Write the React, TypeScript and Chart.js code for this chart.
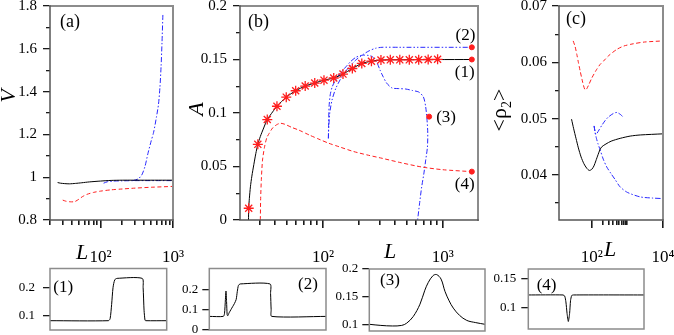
import React, { useEffect, useRef } from 'react';
import { Chart, registerables } from 'chart.js';

Chart.register(...registerables);

const W = 674;
const H = 335;
const SERIF = '"Liberation Serif", "Times New Roman", Times, serif';

type Pt = [number, number];

// ---------------- Panel (a): V vs L ----------------
const aBlack: Pt[] = [[25.5, 0.975], [28, 0.972], [32, 0.97], [37, 0.969], [45, 0.971], [55, 0.974], [70, 0.978], [100, 0.982], [140, 0.985], [200, 0.986], [400, 0.986], [1000, 0.986]];
const aRed: Pt[] = [[30, 0.893], [33, 0.888], [38, 0.885], [44, 0.886], [50, 0.897], [56, 0.909], [65, 0.92], [80, 0.929], [100, 0.935], [140, 0.941], [200, 0.945], [300, 0.949], [500, 0.953], [1000, 0.957]];
const aBlueFlat: Pt[] = [[110, 0.972], [125, 0.979], [150, 0.982], [200, 0.983], [300, 0.984], [600, 0.984], [1000, 0.984]];
const aBlueRise: Pt[] = [[280, 0.984], [330, 0.992], [370, 1.01], [410, 1.05], [450, 1.11], [500, 1.17], [540, 1.21], [590, 1.28], [630, 1.34], [660, 1.42], [685, 1.52], [705, 1.63], [725, 1.76]];
const aXTicks = [20, 30, 40, 50, 60, 70, 80, 90, 100, 200, 300, 400, 500, 600, 700, 800, 900, 1000];
const aXMajor = [100, 1000];
const aXLabels = ['10²', '10³'];
const aYTicks = [0.8, 0.9, 1.0, 1.1, 1.2, 1.3, 1.4, 1.5, 1.6, 1.7, 1.8];
const aYMajor = [0.8, 1.0, 1.2, 1.4, 1.6, 1.8];
const aYLabels = ['0.8', '1', '1.2', '1.4', '1.6', '1.8'];

// ---------------- Panel (b): A vs L ----------------
const bStarL = [24.0, 28.6, 34.3, 41.3, 49.4, 59.2, 71.1, 85.4, 102, 123, 147, 176, 211, 254, 305, 365, 438, 526, 630, 756, 906];
const bStarA = [0.011, 0.0707, 0.0939, 0.1063, 0.1148, 0.1208, 0.1252, 0.128, 0.1307, 0.1327, 0.1364, 0.1416, 0.1463, 0.1484, 0.1495, 0.1497, 0.1497, 0.1497, 0.1498, 0.15, 0.1502];
const bBlack: Pt[] = [[23.9, 0], [24.0, 0.011], [24.3, 0.02], [24.8, 0.031], [25.5, 0.041], [26.5, 0.052], [27.5, 0.062], [28.6, 0.0707], [30, 0.078], [32, 0.086], [34.3, 0.0939], [38, 0.101], [41.3, 0.1063], [49.4, 0.1148], [59.2, 0.1208], [71.1, 0.1252], [85.4, 0.128], [102, 0.1307], [123, 0.1327], [147, 0.1364], [176, 0.1416], [211, 0.1463], [254, 0.1484], [305, 0.1495], [400, 0.1498], [1750, 0.15]];
const bRed: Pt[] = [[30, 0], [30.2, 0.02], [30.6, 0.038], [31.3, 0.056], [32.5, 0.068], [34, 0.077], [35.6, 0.081], [38, 0.086], [41, 0.089], [44, 0.0904], [48, 0.0895], [55, 0.0865], [63, 0.084], [77, 0.0794], [95, 0.075], [112, 0.0717], [136, 0.0685], [180, 0.064], [240, 0.0605], [311, 0.0577], [450, 0.0535], [670, 0.0495], [1000, 0.047], [1750, 0.0452]];
const bBlue1: Pt[] = [[111, 0.0763], [111.5, 0.09], [112.5, 0.106], [115, 0.117], [120, 0.125], [128, 0.131], [140, 0.1375], [155, 0.143], [170, 0.148], [188, 0.152], [213, 0.154], [240, 0.1538], [259, 0.1526], [280, 0.148], [300, 0.14], [313, 0.1355], [340, 0.128], [377, 0.1234], [430, 0.1228], [492, 0.1224], [560, 0.121], [631, 0.1196], [690, 0.115], [721, 0.1056], [740, 0.093], [750, 0.0813], [745, 0.068], [721, 0.056], [695, 0.043], [667, 0.0308], [640, 0.015], [617, 0]];
const bBlue2: Pt[] = [[111, 0.0763], [112, 0.088], [114, 0.1], [119, 0.112], [128, 0.123], [144, 0.134], [165, 0.143], [188, 0.1495], [215, 0.1545], [242, 0.158], [275, 0.1605], [311, 0.1614], [433, 0.1614], [1750, 0.1614]];
const bDots: Pt[] = [[1750, 0.15], [1750, 0.1614], [770, 0.0966], [1750, 0.0452]];
const bDotLabels = ['(1)', '(2)', '(3)', '(4)'];
const bXTicks = [30, 40, 50, 60, 70, 80, 90, 100, 200, 300, 400, 500, 600, 700, 800, 900, 1000];
const bXMajor = [100, 1000];
const bXLabels = ['10²', '10³'];
const bYTicks = [0, 0.025, 0.05, 0.075, 0.1, 0.125, 0.15, 0.175, 0.2];
const bYMajor = [0, 0.05, 0.1, 0.15, 0.2];
const bYLabels = ['0', '0.05', '0.1', '0.15', '0.2'];

// ---------------- Panel (c): <rho_2> vs L ----------------
const cRed: Pt[] = [[30, 0.0638], [34, 0.0628], [38, 0.0614], [42, 0.06], [47, 0.0585], [53, 0.057], [59, 0.0558], [65, 0.0551], [72, 0.0553], [82, 0.056], [100, 0.0572], [130, 0.0585], [170, 0.0596], [212, 0.0602], [300, 0.0612], [506, 0.0623], [800, 0.0629], [1488, 0.0633], [3000, 0.0636], [10000, 0.0638]];
const cBlack: Pt[] = [[27, 0.0499], [31, 0.0482], [36, 0.0465], [42, 0.0448], [50, 0.0432], [60, 0.042], [72, 0.0412], [85, 0.0408], [100, 0.041], [115, 0.0416], [130, 0.0425], [150, 0.0436], [170, 0.0445], [191, 0.045], [250, 0.0455], [350, 0.046], [627, 0.0465], [1200, 0.0469], [2300, 0.0471], [10000, 0.0473]];
const cBlue1: Pt[] = [[116, 0.0487], [122, 0.0478], [128, 0.0472], [140, 0.0474], [160, 0.048], [191, 0.0488], [240, 0.0497], [294, 0.0503], [400, 0.0509], [506, 0.0511], [650, 0.0507], [777, 0.0502]];
const cBlue2: Pt[] = [[116, 0.0487], [125, 0.0475], [135, 0.0465], [150, 0.0455], [175, 0.0443], [210, 0.0428], [264, 0.0414], [350, 0.0402], [450, 0.0392], [620, 0.0379], [1000, 0.0369], [2300, 0.0361], [5000, 0.0359], [10000, 0.0358]];
const cXTicks = [100, 200, 300, 400, 500, 600, 700, 800, 900, 1000, 10000];
const cXMajor = [100, 10000];
const cXLabels = ['10²', '10⁴'];
const cYTicks = [0.035, 0.04, 0.045, 0.05, 0.055, 0.06, 0.065, 0.07];
const cYMajor = [0.04, 0.05, 0.06, 0.07];
const cYLabels = ['0.04', '0.05', '0.06', '0.07'];

// ---------------- Bottom profiles (1)-(4) ----------------
const p1: Pt[] = [[0, 0.083], [0.5, 0.083], [0.515, 0.09], [0.528, 0.14], [0.54, 0.2], [0.555, 0.228], [0.575, 0.233], [0.79, 0.233], [0.798, 0.2], [0.806, 0.12], [0.814, 0.085], [0.82, 0.083], [1, 0.083]];
const p1Ticks = [0.1, 0.2];
const p1Labels = ['0.1', '0.2'];
const p2: Pt[] = [[0, 0.067], [0.12, 0.067], [0.13, 0.08], [0.138, 0.15], [0.143, 0.192], [0.148, 0.14], [0.153, 0.075], [0.158, 0.07], [0.17, 0.085], [0.185, 0.1], [0.2, 0.115], [0.215, 0.13], [0.23, 0.15], [0.24, 0.19], [0.25, 0.22], [0.265, 0.227], [0.52, 0.227], [0.525, 0.18], [0.53, 0.1], [0.535, 0.067], [1, 0.067]];
const p2Ticks = [0, 0.1, 0.2];
const p2Labels = ['0', '0.1', '0.2'];
const p3: Pt[] = [[0, 0.101], [0.1, 0.099], [0.2, 0.098], [0.28, 0.099], [0.323, 0.103], [0.38, 0.115], [0.438, 0.137], [0.48, 0.162], [0.51, 0.176], [0.55, 0.188], [0.582, 0.19], [0.62, 0.182], [0.654, 0.16], [0.69, 0.143], [0.726, 0.13], [0.78, 0.117], [0.842, 0.108], [0.92, 0.104], [1, 0.101]];
const p3Ticks = [0.1, 0.15, 0.2];
const p3Labels = ['0.1', '0.15', '0.2'];
const p4: Pt[] = [[0, 0.122], [0.3, 0.122], [0.315, 0.12], [0.325, 0.11], [0.335, 0.09], [0.346, 0.076], [0.357, 0.09], [0.365, 0.112], [0.375, 0.121], [0.39, 0.122], [1, 0.122]];
const p4Ticks = [0.1, 0.15];
const p4Labels = ['0.1', '0.15'];

// ---------------- Styles ----------------
const RED = 'rgb(255,30,30)';
const BLUE = 'rgb(40,40,255)';
const BLACK = '#000';
const DASH = [4, 2.5];
const DASHDOT = [5, 2, 1.5, 2];
const DASHDOTDOT = [5, 2, 1.5, 2, 1.5, 2];
const TICK_LEN = 7;

interface Rect { left: number; top: number; right: number; bottom: number }
interface AxisCfg {
  type: 'linear' | 'logarithmic';
  min: number; max: number;
  ticks: number[]; major: number[]; labels: string[];
  fontSize: number; padding: number;
}
interface SeriesCfg {
  data: Pt[]; color: string; dash?: number[]; width?: number; tension?: number;
  points?: boolean; pointStyle?: string; radius?: number;
}
interface Part { t: string; font: string; dy?: number }
interface TextCfg { parts: Part[]; x: number; y: number; rotate?: boolean; align?: 'left' | 'center' }
interface AnchorCfg { at: Pt; text: string; dx: number; dy: number; font: string }
interface PanelCfg {
  rect: Rect; x: AxisCfg | null; xRange?: [number, number]; y: AxisCfg;
  series: SeriesCfg[]; texts: TextCfg[]; anchors?: AnchorCfg[]; small?: boolean;
}

const F = (size: number, italic = false) => `${italic ? 'italic ' : ''}${size}px ${SERIF}`;

const PANELS: PanelCfg[] = [
  {
    rect: { left: 50, top: 6, right: 173, bottom: 220 },
    x: { type: 'logarithmic', min: 20, max: 1000, ticks: aXTicks, major: aXMajor, labels: aXLabels, fontSize: 17, padding: 21 },
    y: { type: 'linear', min: 0.8, max: 1.8, ticks: aYTicks, major: aYMajor, labels: aYLabels, fontSize: 15, padding: 13 },
    series: [
      { data: aBlack, color: BLACK },
      { data: aRed, color: RED, dash: DASH },
      { data: aBlueFlat, color: BLUE, dash: DASHDOT },
      { data: aBlueRise, color: BLUE, dash: DASHDOT },
    ],
    texts: [
      { parts: [{ t: '(a)', font: F(18) }], x: 60, y: 27 },
      { parts: [{ t: 'V', font: F(22, true) }], x: 15, y: 96, rotate: true, align: 'center' },
      { parts: [{ t: 'L', font: F(22, true) }], x: 82, y: 259, align: 'center' },
    ],
  },
  {
    rect: { left: 240, top: 6, right: 478, bottom: 220 },
    x: { type: 'logarithmic', min: 20.3, max: 1970, ticks: bXTicks, major: bXMajor, labels: bXLabels, fontSize: 17, padding: 21 },
    y: { type: 'linear', min: 0, max: 0.2, ticks: bYTicks, major: bYMajor, labels: bYLabels, fontSize: 15, padding: 13 },
    series: [
      { data: bDots, color: RED, points: true, pointStyle: 'circle', radius: 2.5 },
      { data: bStarL.map((l, i) => [l, bStarA[i]] as Pt), color: RED, points: true, pointStyle: 'star', radius: 5 },
      { data: bBlack, color: BLACK },
      { data: bRed, color: RED, dash: DASH },
      { data: bBlue1, color: BLUE, dash: DASHDOT },
      { data: bBlue2, color: BLUE, dash: DASHDOTDOT },
    ],
    texts: [
      { parts: [{ t: '(b)', font: F(18) }], x: 248, y: 27 },
      { parts: [{ t: 'A', font: F(22, true) }], x: 203, y: 109, rotate: true, align: 'center' },
      { parts: [{ t: 'L', font: F(22, true) }], x: 390, y: 258, align: 'center' },
    ],
    anchors: bDots.map((d, i) => ({
      at: d, text: bDotLabels[i], font: F(17),
      dx: [-17, -16.3, 7, -17][i], dy: [17.3, -7.3, 5.3, 17.3][i],
    })),
  },
  {
    rect: { left: 559, top: 6, right: 663, bottom: 220 },
    x: { type: 'logarithmic', min: 12, max: 10000, ticks: cXTicks, major: cXMajor, labels: cXLabels, fontSize: 17, padding: 21 },
    y: { type: 'linear', min: 0.032, max: 0.07, ticks: cYTicks, major: cYMajor, labels: cYLabels, fontSize: 15, padding: 12 },
    series: [
      { data: cBlack, color: BLACK },
      { data: cRed, color: RED, dash: DASH },
      { data: cBlue1, color: BLUE, dash: DASHDOT },
      { data: cBlue2, color: BLUE, dash: DASHDOT },
    ],
    texts: [
      { parts: [{ t: '(c)', font: F(18) }], x: 566, y: 24 },
      {
        parts: [{ t: '<ρ', font: F(22) }, { t: '2', font: F(14), dy: 5 }, { t: '>', font: F(22) }],
        x: 506, y: 110, rotate: true, align: 'center',
      },
      { parts: [{ t: 'L', font: F(22, true) }], x: 610, y: 256, align: 'center' },
    ],
  },
  {
    rect: { left: 50, top: 268.5, right: 166.7, bottom: 330 }, x: null, xRange: [0, 1], small: true,
    y: { type: 'linear', min: 0.05, max: 0.268, ticks: p1Ticks, major: p1Ticks, labels: p1Labels, fontSize: 13, padding: 15 },
    series: [{ data: p1, color: BLACK }],
    texts: [{ parts: [{ t: '(1)', font: F(17) }], x: 53.3, y: 292 }],
  },
  {
    rect: { left: 209.3, top: 268.5, right: 326, bottom: 330 }, x: null, xRange: [0, 1], small: true,
    y: { type: 'linear', min: 0, max: 0.303, ticks: p2Ticks, major: p2Ticks, labels: p2Labels, fontSize: 13, padding: 11 },
    series: [{ data: p2, color: BLACK }],
    texts: [{ parts: [{ t: '(2)', font: F(17) }], x: 298, y: 288.5 }],
  },
  {
    rect: { left: 369.3, top: 269, right: 485, bottom: 331 }, x: null, xRange: [0, 1], small: true,
    y: { type: 'linear', min: 0.089, max: 0.2, ticks: p3Ticks, major: p3Ticks, labels: p3Labels, fontSize: 13, padding: 11 },
    series: [{ data: p3, color: BLACK, tension: 0.35 }],
    texts: [{ parts: [{ t: '(3)', font: F(17) }], x: 380, y: 285 }],
  },
  {
    rect: { left: 528.3, top: 269, right: 644, bottom: 329 }, x: null, xRange: [0, 1], small: true,
    y: { type: 'linear', min: 0.063, max: 0.167, ticks: p4Ticks, major: p4Ticks, labels: p4Labels, fontSize: 13, padding: 12 },
    series: [{ data: p4, color: BLACK, tension: 0.2 }],
    texts: [{ parts: [{ t: '(4)', font: F(17) }], x: 536.7, y: 290 }],
  },
];

function drawParts(ctx: CanvasRenderingContext2D, t: TextCfg) {
  ctx.save();
  ctx.translate(t.x, t.y);
  if (t.rotate) ctx.rotate(-Math.PI / 2);
  ctx.textBaseline = 'alphabetic';
  ctx.textAlign = 'left';
  ctx.fillStyle = '#000';
  let total = 0;
  for (const p of t.parts) { ctx.font = p.font; total += ctx.measureText(p.t).width; }
  let x = t.align === 'center' ? -total / 2 : 0;
  for (const p of t.parts) {
    ctx.font = p.font;
    ctx.fillText(p.t, x, p.dy || 0);
    x += ctx.measureText(p.t).width;
  }
  ctx.restore();
}

function isIn(list: number[], v: number) {
  return list.some((m) => Math.abs(m - v) <= 1e-9 * Math.max(1, Math.abs(m)));
}

function makeChart(canvas: HTMLCanvasElement, p: PanelCfg): Chart {
  const r = p.rect;
  const axisOpts = (ax: AxisCfg, isX: boolean): any => ({
    type: ax.type, min: ax.min, max: ax.max, display: true,
    grid: isX
      ? { display: false }
      : {
          display: true, drawOnChartArea: false, drawTicks: true, tickLength: TICK_LEN,
          color: '#1a1a1a', lineWidth: 1.3,
          // minor ticks: only the inner 4px of the tick line is drawn
          tickBorderDash: (c: any) => (c.tick && !isIn(ax.major, c.tick.value) ? [4, 3] : []),
          tickBorderDashOffset: (c: any) => (c.tick && !isIn(ax.major, c.tick.value) ? 4 : 0),
        },
    border: { display: false },
    ticks: {
      autoSkip: false, maxRotation: 0, minRotation: 0,
      padding: isX ? ax.padding : Math.max(0, ax.padding - TICK_LEN), color: '#000',
      font: { family: SERIF, size: ax.fontSize, lineHeight: 1 },
      callback: (v: any) => {
        const i = ax.major.findIndex((m) => Math.abs(m - Number(v)) <= 1e-9 * Math.max(1, Math.abs(m)));
        return i >= 0 ? ax.labels[i] : '';
      },
    },
    afterBuildTicks: (s: any) => { s.ticks = ax.ticks.map((v) => ({ value: v })); },
    afterFit: (s: any) => {
      if (isX) s.height = H - r.bottom; else s.width = r.left;
      s.paddingLeft = 0; s.paddingRight = 0; s.paddingTop = 0; s.paddingBottom = 0;
    },
  });

  const xScale = p.x
    ? axisOpts(p.x, true)
    : { type: 'linear', display: false, min: p.xRange![0], max: p.xRange![1] };

  const datasets = p.series.map((s) => ({
    type: 'scatter' as const,
    data: s.data.map(([x, y]) => ({ x, y })),
    showLine: !s.points,
    borderColor: s.color,
    backgroundColor: s.color,
    borderWidth: s.width ?? 1,
    borderDash: s.dash ?? [],
    tension: s.tension ?? 0.25,
    pointRadius: s.points ? s.radius ?? 3 : 0,
    pointStyle: (s.pointStyle ?? 'circle') as any,
    pointBorderColor: s.color,
    pointBackgroundColor: s.color,
    pointBorderWidth: s.pointStyle === 'star' ? 1.3 : 1,
    fill: false,
  }));

  const deco = {
    id: 'deco',
    afterDraw(chart: any) {
      const ctx: CanvasRenderingContext2D = chart.ctx;
      const a = chart.chartArea;
      ctx.save();
      ctx.setLineDash([]);
      ctx.globalAlpha = 1;
      // x tick marks at the scale's own pixel positions (longer on decades)
      if (p.x) {
        ctx.fillStyle = '#1a1a1a';
        const xs = chart.scales.x;
        const B = Math.round(a.bottom);
        for (const v of p.x.ticks) {
          const px = Math.round(xs.getPixelForValue(v));
          const len = isIn(p.x.major, v) ? 8 : 5;
          ctx.fillRect(px - 1, B, 1.6, len);
        }
      }
      // frame
      ctx.lineCap = 'square';
      ctx.strokeStyle = '#8c8c8c';
      ctx.lineWidth = p.small ? 1.5 : 2;
      ctx.beginPath();
      ctx.moveTo(a.left, a.top); ctx.lineTo(a.right, a.top); ctx.lineTo(a.right, a.bottom);
      if (p.small) { ctx.lineTo(a.left, a.bottom); ctx.closePath(); }
      ctx.stroke();
      if (!p.small) {
        ctx.strokeStyle = '#555';
        ctx.lineWidth = 1.5;
        ctx.beginPath();
        ctx.moveTo(a.left, a.top); ctx.lineTo(a.left, a.bottom); ctx.lineTo(a.right, a.bottom);
        ctx.stroke();
      }
      // texts
      for (const t of p.texts) drawParts(ctx, t);
      if (p.anchors) {
        for (const an of p.anchors) {
          const px = chart.scales.x.getPixelForValue(an.at[0]);
          const py = chart.scales.y.getPixelForValue(an.at[1]);
          drawParts(ctx, { parts: [{ t: an.text, font: an.font }], x: px + an.dx, y: py + an.dy });
        }
      }
      ctx.restore();
    },
  };

  return new Chart(canvas, {
    type: 'scatter',
    data: { datasets: datasets as any },
    options: {
      responsive: false,
      animation: false,
      devicePixelRatio: 1,
      events: [],
      layout: {
        padding: { left: 0, top: r.top, right: W - r.right, bottom: p.x ? 0 : H - r.bottom },
        autoPadding: false,
      } as any,
      plugins: { legend: { display: false }, tooltip: { enabled: false }, title: { display: false } },
      scales: { x: xScale, y: axisOpts(p.y, false) },
    } as any,
    plugins: [deco],
  });
}

export default function App() {
  const refs = useRef<(HTMLCanvasElement | null)[]>([]);
  useEffect(() => {
    const charts = PANELS.map((p, i) => makeChart(refs.current[i]!, p));
    return () => charts.forEach((c) => c.destroy());
  }, []);
  return (
    <div style={{ position: 'fixed', left: 0, top: 0, width: W, height: H, background: '#fff' }}>
      {PANELS.map((_, i) => (
        <canvas
          key={i}
          ref={(el) => { refs.current[i] = el; }}
          width={W}
          height={H}
          style={{ position: 'absolute', left: 0, top: 0, width: W, height: H }}
        />
      ))}
    </div>
  );
}
